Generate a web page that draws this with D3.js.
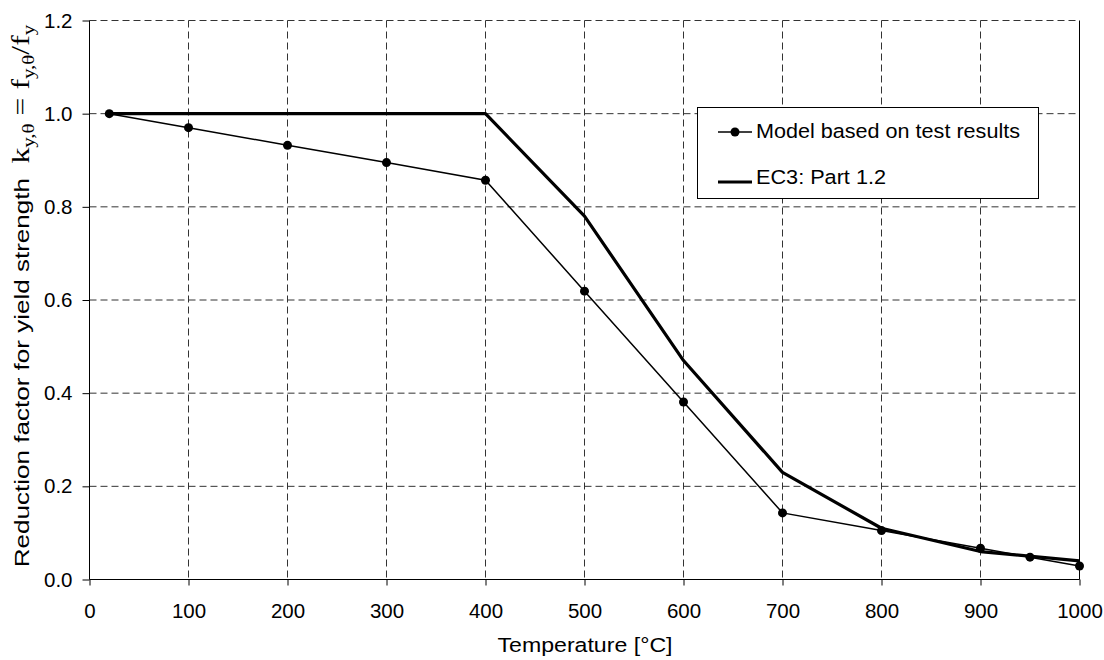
<!DOCTYPE html>
<html>
<head>
<meta charset="utf-8">
<title>Reduction factor for yield strength</title>
<script src="https://cdnjs.cloudflare.com/ajax/libs/d3/7.8.5/d3.min.js"></script>
<style>
  body { margin: 0; background: #fff; }
  svg text { font-family: "Liberation Sans", Arial, sans-serif; fill: #000; }
  .grid line { stroke: #333; stroke-width: 1; stroke-dasharray: 7,4; }
  .axis path, .axis line { stroke: #000; }
  .serif { font-family: "Liberation Serif", "Times New Roman", serif; }
</style>
</head>
<body>
<div id="chart"></div>
<script>
// model based on test results
const modelTemps = [20, 100, 200, 300, 400, 500, 600, 700, 800, 900, 950, 1000];
const modelValues = [1.0, 0.97, 0.932, 0.895, 0.857, 0.619, 0.381, 0.143, 0.105, 0.067, 0.048, 0.029];

// EC3: Part 1.2
const ec3Temps = [20, 100, 200, 300, 400, 500, 600, 700, 800, 900, 1000];
const ec3Values = [1.0, 1.0, 1.0, 1.0, 1.0, 0.78, 0.47, 0.23, 0.11, 0.06, 0.04];

const xTicks = [0, 100, 200, 300, 400, 500, 600, 700, 800, 900, 1000];
const yTicks = [0, 0.2, 0.4, 0.6, 0.8, 1.0, 1.2];

const W = 1104, H = 660;
const margin = { left: 89.5, top: 20.5, right: 24.5, bottom: 80.5 };
const innerW = W - margin.left - margin.right;
const innerH = H - margin.top - margin.bottom;

const svg = d3.select("#chart").append("svg")
  .attr("width", W).attr("height", H);

const g = svg.append("g")
  .attr("transform", `translate(${margin.left},${margin.top})`);

const x = d3.scaleLinear().domain([0, 1000]).range([0, innerW]);
const y = d3.scaleLinear().domain([0, 1.2]).range([innerH, 0]);

// dashed grid
g.append("g").attr("class", "grid")
  .selectAll("line").data(xTicks.slice(1, -1)).join("line")
  .attr("x1", d => x(d)).attr("x2", d => x(d))
  .attr("y1", 0).attr("y2", innerH);

g.append("g").attr("class", "grid")
  .selectAll("line").data(yTicks.slice(1)).join("line")
  .attr("x1", 0).attr("x2", innerW)
  .attr("y1", d => y(d)).attr("y2", d => y(d));

// axes
const xAxis = g.append("g").attr("class", "axis")
  .attr("transform", `translate(0,${innerH})`)
  .call(d3.axisBottom(x).tickValues(xTicks).tickFormat(d3.format("d"))
    .tickSize(6).tickPadding(18).tickSizeOuter(0));
xAxis.select(".domain").remove();
xAxis.selectAll("text").style("font-size", "20.5px");

const yAxis = g.append("g").attr("class", "axis")
  .call(d3.axisLeft(y).tickValues(yTicks).tickFormat(d3.format(".1f"))
    .tickSize(7).tickPadding(10).tickSizeOuter(0));
yAxis.select(".domain").remove();
yAxis.selectAll("text").style("font-size", "20.5px");

// frame: left, bottom, right solid
g.append("path")
  .attr("d", `M0,0V${innerH}H${innerW}V0`)
  .attr("fill", "none").attr("stroke", "#000").attr("stroke-width", 1);

// lines
const modelData = modelTemps.map((t, i) => [t, modelValues[i]]);
const ec3Data = ec3Temps.map((t, i) => [t, ec3Values[i]]);
const line = d3.line().x(d => x(d[0])).y(d => y(d[1]));

g.append("path").datum(ec3Data)
  .attr("d", line).attr("fill", "none")
  .attr("stroke", "#000").attr("stroke-width", 3.2).attr("stroke-linejoin", "round");

g.append("path").datum(modelData)
  .attr("d", line).attr("fill", "none")
  .attr("stroke", "#000").attr("stroke-width", 1.5);

g.selectAll("circle.pt").data(modelData).join("circle")
  .attr("class", "pt")
  .attr("cx", d => x(d[0])).attr("cy", d => y(d[1]))
  .attr("r", 4.5).attr("fill", "#000");

// legend
const lg = svg.append("g");
lg.append("rect")
  .attr("x", 697.5).attr("y", 107.5).attr("width", 341).attr("height", 91)
  .attr("fill", "#fff").attr("stroke", "#000").attr("stroke-width", 1);
lg.append("line").attr("x1", 718).attr("x2", 752).attr("y1", 132).attr("y2", 132)
  .attr("stroke", "#000").attr("stroke-width", 1.5);
lg.append("circle").attr("cx", 735).attr("cy", 132).attr("r", 4.5).attr("fill", "#000");
lg.append("text").attr("x", 756).attr("y", 138).style("font-size", "20.5px")
  .attr("textLength", 264).attr("lengthAdjust", "spacingAndGlyphs")
  .text("Model based on test results");
lg.append("line").attr("x1", 718).attr("x2", 752).attr("y1", 182).attr("y2", 182)
  .attr("stroke", "#000").attr("stroke-width", 3.2);
lg.append("text").attr("x", 756).attr("y", 184).style("font-size", "20.5px")
  .attr("textLength", 130).attr("lengthAdjust", "spacingAndGlyphs")
  .text("EC3: Part 1.2");

// x axis title
svg.append("text")
  .attr("x", margin.left + innerW / 2 - 87).attr("y", 652)
  .style("font-size", "20.5px")
  .attr("textLength", 175).attr("lengthAdjust", "spacingAndGlyphs")
  .text("Temperature [°C]");

// y axis title with serif formula
const yt = svg.append("text")
  .attr("transform", "translate(29,296) rotate(-90) scale(1.27,1)")
  .attr("text-anchor", "middle").style("font-size", "20.5px");
yt.append("tspan").text("Reduction factor for yield strength\u00a0\u00a0");
yt.append("tspan").attr("class", "serif").style("font-size", "25px").text("k");
yt.append("tspan").attr("class", "serif").style("font-size", "16.5px").attr("dy", 5).text("y,\u03b8");
yt.append("tspan").attr("class", "serif").style("font-size", "25px").attr("dy", -5).text(" = f");
yt.append("tspan").attr("class", "serif").style("font-size", "16.5px").attr("dy", 5).text("y,\u03b8");
yt.append("tspan").attr("class", "serif").style("font-size", "25px").attr("dy", -5).text("/f");
yt.append("tspan").attr("class", "serif").style("font-size", "16.5px").attr("dy", 5).text("y");
</script>
</body>
</html>
